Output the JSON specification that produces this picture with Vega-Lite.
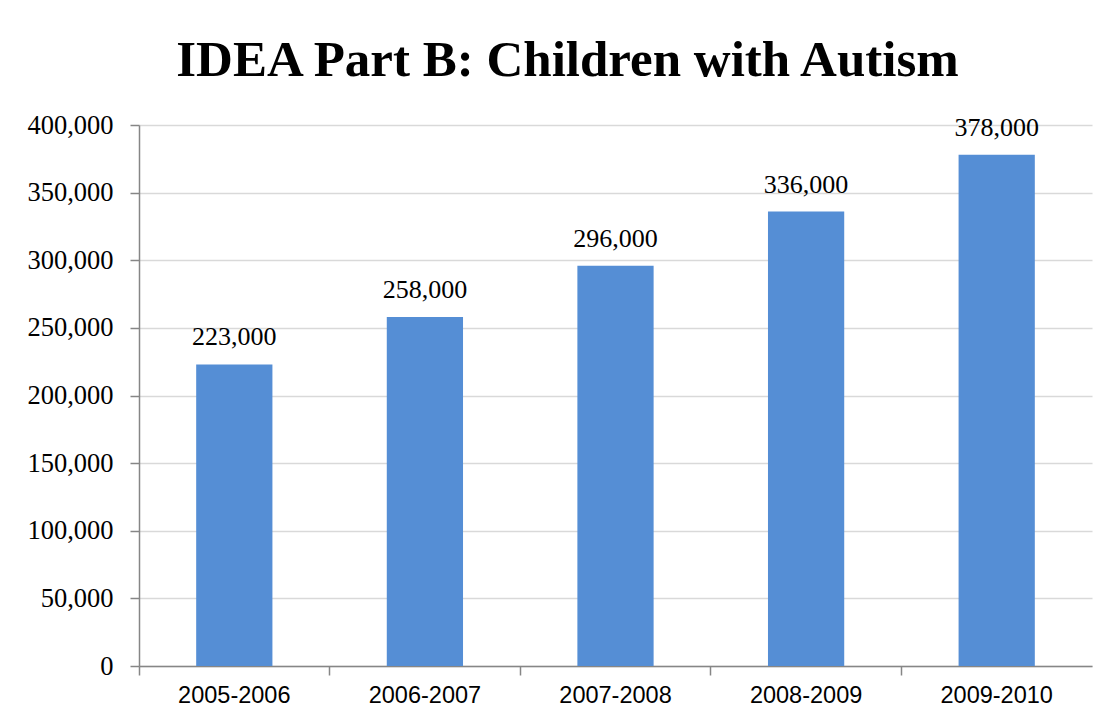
{
  "$schema": "https://vega.github.io/schema/vega-lite/v6.json",
  "autosize": {"type": "none"},
  "width": 953,
  "height": 541,
  "padding": {"left": 139, "top": 125, "right": 17, "bottom": 57},
  "background": "white",
  "title": {
    "text": "IDEA Part B: Children with Autism",
    "font": "Liberation Serif",
    "fontSize": 51,
    "fontWeight": "bold",
    "color": "black",
    "anchor": "middle",
    "frame": "group",
    "dx": -48,
    "dy": 45,
    "baseline": "alphabetic",
    "offset": 30
  },
  "data": {
    "values": [
      {"year": "2005-2006", "children": 223000},
      {"year": "2006-2007", "children": 258000},
      {"year": "2007-2008", "children": 296000},
      {"year": "2008-2009", "children": 336000},
      {"year": "2009-2010", "children": 378000}
    ]
  },
  "encoding": {
    "x": {
      "field": "year",
      "type": "nominal",
      "sort": null,
      "scale": {"paddingInner": 0, "paddingOuter": 0},
      "axis": {
        "title": null,
        "labelAngle": 0,
        "labelFont": "Liberation Sans",
        "labelFontSize": 23.5,
        "labelColor": "black",
        "labelPadding": 8,
        "domainColor": "#868686",
        "domainWidth": 1.5,
        "tickColor": "#868686",
        "tickWidth": 1.5,
        "tickSize": 9,
        "bandPosition": 0,
        "grid": false
      }
    },
    "y": {
      "field": "children",
      "type": "quantitative",
      "scale": {"domain": [0, 400000], "nice": false},
      "axis": {
        "title": null,
        "values": [0, 50000, 100000, 150000, 200000, 250000, 300000, 350000, 400000],
        "format": ",d",
        "labelFont": "Liberation Serif",
        "labelFontSize": 26.5,
        "labelColor": "black",
        "labelPadding": 17,
        "domainColor": "#868686",
        "domainWidth": 1.5,
        "tickColor": "#868686",
        "tickWidth": 1.5,
        "tickSize": 9,
        "gridColor": "#d9d9d9",
        "gridWidth": 1.5
      }
    }
  },
  "layer": [
    {
      "mark": {"type": "bar", "color": "#558ed5", "width": {"band": 0.4}}
    },
    {
      "mark": {
        "type": "text",
        "font": "Liberation Serif",
        "fontSize": 26,
        "color": "black",
        "baseline": "alphabetic",
        "dy": -19
      },
      "encoding": {
        "text": {"field": "children", "type": "quantitative", "format": ",d"}
      }
    }
  ],
  "config": {
    "view": {"stroke": null}
  }
}
